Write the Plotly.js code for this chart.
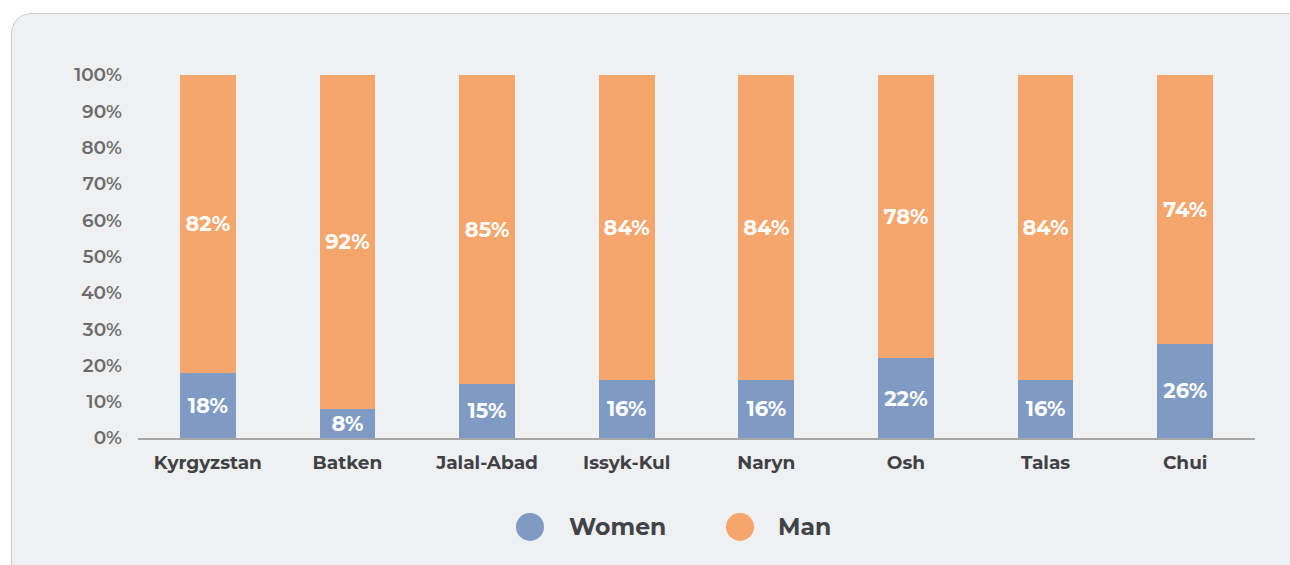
<!DOCTYPE html>
<html><head><meta charset="utf-8">
<script src="https://cdn.plot.ly/plotly-3.0.1.min.js"></script>
<style>
html,body{margin:0;padding:0;background:#fff;width:1290px;height:565px;overflow:hidden;}
#panel{position:absolute;left:11px;top:13px;width:1320px;height:600px;background:#eff0f2;border:1px solid #c9cdd1;border-radius:20px;}
#chart{position:absolute;left:0;top:0;width:1290px;height:565px;}
</style></head>
<body>
<div id="panel"></div>
<div id="chart"></div>
<script>
const categories = ["Kyrgyzstan","Batken","Jalal-Abad","Issyk-Kul","Naryn","Osh","Talas","Chui"];
const women = [18, 8, 15, 16, 16, 22, 16, 26];
const man = [82, 92, 85, 84, 84, 78, 84, 74];
const seriesNames = ["Women","Man"];
const tickVals = [0,10,20,30,40,50,60,70,80,90,100];
const tickText = tickVals.map(v => v + "%");

const colors = ["#7f9bc4", "#f5a66c"];
const FONT = "Montserrat, 'DejaVu Sans', sans-serif";

function barTrace(name, vals, color){
  return {
    type:"bar", name:name, x:categories, y:vals,
    marker:{color:color, line:{width:0}},
    width:0.4,
    text: vals.map(v => v + "%"),
    textposition:"inside", insidetextanchor:"middle",
    textfont:{family:FONT, size:21, color:"#ffffff", weight:700},
    hoverinfo:"skip", showlegend:false, cliponaxis:false
  };
}

const data = [barTrace(seriesNames[0], women, colors[0]), barTrace(seriesNames[1], man, colors[1])];

const W = 1117, ly = -0.245;
const legendPx = [[530, 567],[740, 776]];
const shapes = [], annotations = [];
seriesNames.forEach((n,i) => {
  shapes.push({type:"circle", xref:"paper", yref:"paper", xsizemode:"pixel", ysizemode:"pixel",
    xanchor:(legendPx[i][0]-138)/W, yanchor:ly, x0:-14, x1:14, y0:-14, y1:14,
    fillcolor:colors[i], line:{width:0}});
  annotations.push({xref:"paper", yref:"paper", x:(legendPx[i][1]-138)/W, y:ly, xanchor:"left", yanchor:"middle",
    text:n, showarrow:false, font:{family:FONT, size:23.5, color:"#404347", weight:700}});
});

const layout = {
  width:1290, height:565,
  margin:{l:138, r:35, t:75, b:127},
  paper_bgcolor:"rgba(0,0,0,0)", plot_bgcolor:"rgba(0,0,0,0)",
  barmode:"stack", showlegend:false,
  uniformtext:{mode:"show", minsize:21},
  xaxis:{type:"category", showline:true, linecolor:"#a6a6a6", linewidth:1.5, showgrid:false, zeroline:false,
    ticks:"", tickfont:{family:FONT, size:18.5, color:"#3f4145", weight:700}, ticklabelstandoff:7, fixedrange:true},
  yaxis:{range:[0,100], tickvals:tickVals, ticktext:tickText, showgrid:false, zeroline:false, showline:false,
    ticks:"", tickfont:{family:FONT, size:18.5, color:"#6b6b6b", weight:600}, ticklabelstandoff:15, fixedrange:true},
  shapes:shapes, annotations:annotations
};
Plotly.newPlot("chart", data, layout, {displayModeBar:false, staticPlot:true});
</script>
</body></html>
